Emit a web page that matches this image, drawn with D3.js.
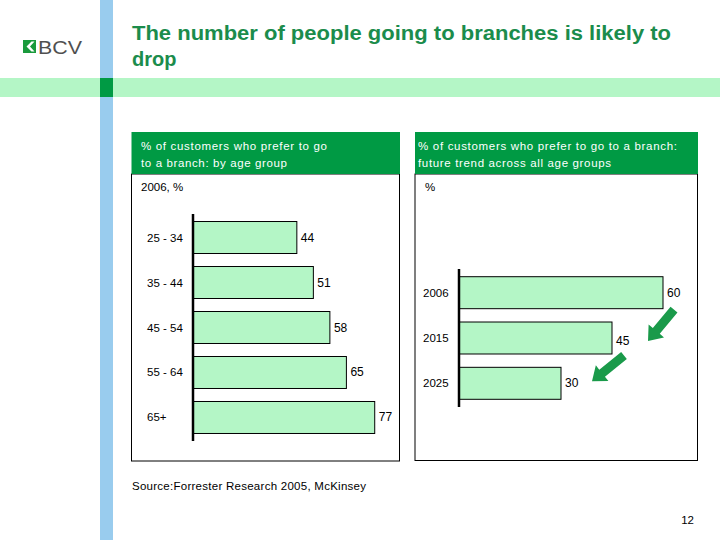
<!DOCTYPE html>
<html><head><meta charset="utf-8">
<script src="https://cdn.jsdelivr.net/npm/d3@7"></script>
<style>
html,body{margin:0;padding:0;background:#fff;}
svg{display:block;}
text{font-family:"Liberation Sans",Arial,sans-serif;}
</style></head>
<body>
<svg id="c" width="720" height="540"></svg>
<script>
const titleLines = ["The number of people going to branches is likely to", "drop"];
const leftHeader = ["% of customers who prefer to go", "to a branch: by age group"];
const rightHeader = ["% of customers who prefer to go to a branch:", "future trend across all age groups"];
const leftUnit = "2006, %";
const rightUnit = "%";
const ageGroups = ["25 - 34", "35 - 44", "45 - 54", "55 - 64", "65+"];
const ageValues = [44, 51, 58, 65, 77];
const years = ["2006", "2015", "2025"];
const yearValues = [60, 45, 30];
const sourceText = "Source:Forrester Research 2005, McKinsey";
const pageNum = "12";

const svg = d3.select("#c");
const GREEN = "#009a44", LIGHT = "#b4f6c6", TITLE = "#1b8c4c", BLUE = "#99ccee";

// background bands
svg.append("rect").attr("x",0).attr("y",78).attr("width",720).attr("height",19).attr("fill",LIGHT);
svg.append("rect").attr("x",100).attr("y",0).attr("width",13).attr("height",540).attr("fill",BLUE);
svg.append("rect").attr("x",100).attr("y",78).attr("width",13).attr("height",19).attr("fill",GREEN);

// logo
const logo = svg.append("g");
logo.append("rect").attr("x",23).attr("y",40).attr("width",13).attr("height",13).attr("fill","#1a9a3c");
logo.append("path").attr("d","M31.5,41.5 L26.5,46.5 L31.5,51.5 L34.5,51.5 L30,46.5 L34.5,41.5 Z").attr("fill","#fff");
logo.append("text").attr("x",38).attr("y",53.5).attr("font-size",18.5)
  .attr("textLength",44).attr("lengthAdjust","spacingAndGlyphs")
  .attr("fill","#505050").text("BCV");

// title
const titleWidths = [539, null];
svg.append("g").selectAll("text").data(titleLines).join("text")
  .attr("x",132).attr("y",(d,i)=>40+i*26).attr("font-size",20).attr("font-weight","bold").attr("fill",TITLE)
  .each(function(d,i){ if(titleWidths[i]) d3.select(this).attr("textLength",titleWidths[i]).attr("lengthAdjust","spacingAndGlyphs"); })
  .text(d=>d);

function panel(px0, px1, header, unit, cats, vals, cfg){
  const g = svg.append("g");
  g.append("rect").attr("x",px0).attr("y",174).attr("width",px1-px0).attr("height",cfg.bottom-174)
    .attr("fill","none").attr("stroke","#000").attr("stroke-width",1);
  g.append("rect").attr("x",px0).attr("y",132).attr("width",px1-px0+0.5).attr("height",42).attr("fill",GREEN);
  g.selectAll("text.h").data(header).join("text").attr("class","h")
    .attr("x",cfg.hx).attr("y",(d,i)=>150+i*17).attr("font-size",11.5).attr("fill","#fff")
    .attr("textLength",(d,i)=>cfg.hw[i]).attr("lengthAdjust","spacing")
    .text(d=>d);
  g.append("text").attr("x",cfg.ux).attr("y",191).attr("font-size",11.5).attr("fill","#000").text(unit);

  const x = d3.scaleLinear().domain([0, cfg.maxV]).range([cfg.ax, cfg.ax + cfg.maxV*cfg.k]);
  const y = d3.scaleBand().domain(cats).range([cfg.y0, cfg.y1]).paddingInner(cfg.pi).paddingOuter(cfg.po);
  g.selectAll("rect.bar").data(vals).join("rect").attr("class","bar")
    .attr("x",x(0)).attr("y",(d,i)=>y(cats[i])).attr("width",d=>x(d)-x(0)).attr("height",y.bandwidth())
    .attr("fill",LIGHT).attr("stroke","#000").attr("stroke-width",1);
  g.append("line").attr("x1",x(0)).attr("x2",x(0)).attr("y1",cfg.y0).attr("y2",cfg.y1)
    .attr("stroke","#000").attr("stroke-width",2.5);
  g.selectAll("text.c").data(cats).join("text").attr("class","c")
    .attr("x",cfg.cx).attr("y",d=>y(d)+y.bandwidth()/2+4).attr("font-size",11.5).attr("fill","#000").text(d=>d);
  g.selectAll("text.v").data(vals).join("text").attr("class","v")
    .attr("x",d=>x(d)+cfg.vdx).attr("y",(d,i)=>y(cats[i])+y.bandwidth()/2+4+cfg.vdy(i))
    .attr("font-size",12).attr("font-weight",cfg.vw).attr("fill","#000").text(d=>d);
  return {x,y,g};
}

panel(131.5, 399.5, leftHeader, leftUnit, ageGroups, ageValues,
  {bottom:461, hx:141, hw:[186,146], ux:141, maxV:77, k:2.36, ax:193, y0:214, y1:441, pi:0.289, po:0.167, cx:147, vdx:4, vdy:()=>0, vw:"normal"});
const R = panel(415, 697.5, rightHeader, rightUnit, years, yearValues,
  {bottom:460.5, hx:418, hw:[259,193], ux:425, maxV:60, k:3.4, ax:459, y0:269, y1:407, pi:0.294, po:0.17, cx:423, vdx:4, vdy:i=>i===0?0:(i===1?3:0), vw:"normal"});

// trend arrows between consecutive bars
function arrow(x1,y1,x2,y2){
  const dx=x2-x1, dy=y2-y1, L=Math.hypot(dx,dy), ux=dx/L, uy=dy/L, nx=-uy, ny=ux;
  const hl=13, sw=4.5, hw=10;
  const bx=x2-ux*hl, by=y2-uy*hl;
  const pts=[[x1+nx*sw,y1+ny*sw],[bx+nx*sw,by+ny*sw],[bx+nx*hw,by+ny*hw],[x2,y2],
             [bx-nx*hw,by-ny*hw],[bx-nx*sw,by-ny*sw],[x1-nx*sw,y1-ny*sw]];
  R.g.append("path").attr("d","M"+pts.map(p=>p.join(",")).join("L")+"Z").attr("fill","#1a9a4a");
}
const bw = R.y.bandwidth();
for(let i=0;i<yearValues.length-1;i++){
  const xs = R.x(yearValues[i]) + (i===0?11:12);
  const ys = R.y(years[i]) + bw + (i===0?1:1.5);
  const xt = R.x(yearValues[i+1]) + (i===0?36:31);
  const yt = R.y(years[i+1]) + bw/2 + (i===0?3:-2);
  arrow(xs,ys,xt,yt);
}

svg.append("text").attr("x",132).attr("y",490).attr("font-size",11.5).attr("fill","#000")
  .attr("textLength",234).attr("lengthAdjust","spacing").text(sourceText);
svg.append("text").attr("x",694).attr("y",524).attr("text-anchor","end").attr("font-size",11.5).attr("fill","#000").text(pageNum);
</script>
</body></html>
